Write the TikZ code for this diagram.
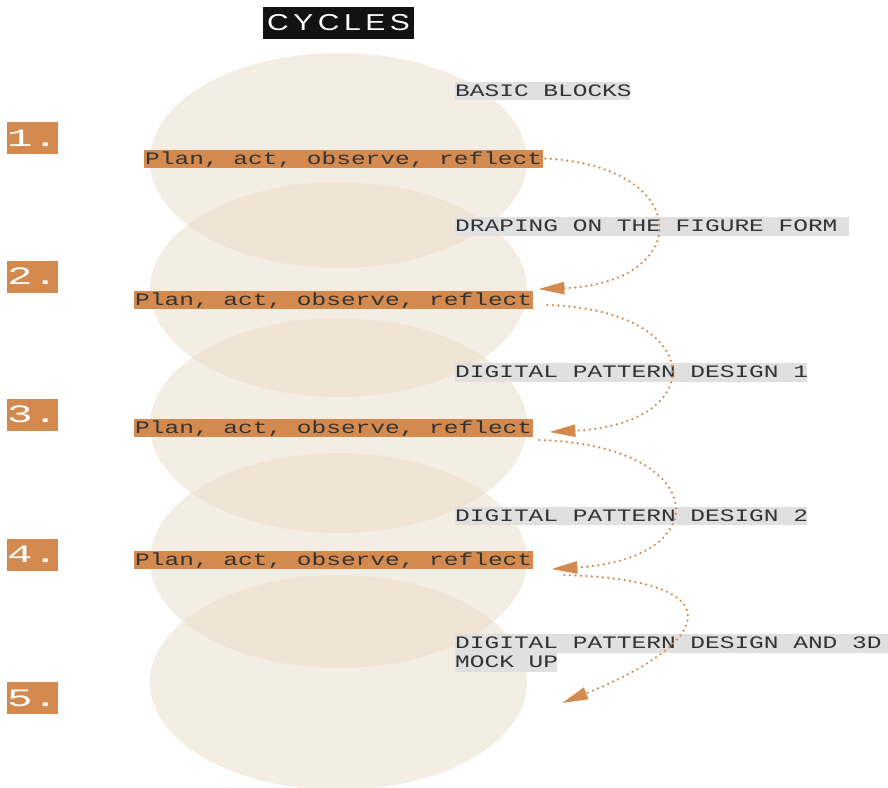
\documentclass[tikz,border=0pt]{standalone}
\usepackage{fontspec}
\setmainfont{Liberation Sans}
\newfontfamily\cycmono{Liberation Mono}[FakeStretch=1.4]
\newfontfamily\cycnum{Liberation Mono}[FakeStretch=1.7]
\newfontfamily\cychead{Liberation Sans}[FakeStretch=1.3,LetterSpace=20]
\usepackage{xcolor}
\usepackage{tikz}
\usetikzlibrary{shapes.geometric, arrows.meta, positioning}

\definecolor{cycorange}{RGB}{212,138,78}
\definecolor{cyctext}{RGB}{51,51,51}
\definecolor{cycgray}{RGB}{224,224,224}
\definecolor{cycbeige}{RGB}{235,221,201}

\newcommand{\stagebox}[2]{\makebox[#1][l]{#2}}

\begin{document}
\begin{tikzpicture}[x=1pt, y=-1pt]

\tikzstyle{disc} = [ellipse, fill=cycbeige, fill opacity=0.5, minimum width=377pt, minimum height=215pt, inner sep=0pt]
\tikzstyle{heading} = [fill=black!93, text=white, minimum width=151pt, minimum height=32pt, inner sep=0pt, font=\cychead\fontsize{23}{26}\selectfont]
\tikzstyle{stepnum} = [anchor=west, fill=cycorange, text=white, inner xsep=0pt, inner ysep=0pt, text height=24pt, text depth=8pt, font=\cycnum\fontsize{25}{28}\selectfont]
\tikzstyle{activity} = [anchor=west, fill=cycorange, text=cyctext, minimum width=395pt, inner xsep=1pt, inner ysep=0pt, text height=14.5pt, text depth=3.5pt, font=\cycmono\fontsize{17.5}{20}\selectfont]
\tikzstyle{stage} = [anchor=west, fill=cycgray, text=cyctext, inner xsep=0pt, inner ysep=0pt, text height=14.5pt, text depth=4pt, font=\cycmono\fontsize{17.5}{20}\selectfont]
\tikzstyle{flow} = [draw=cycorange, line width=2.5pt, line cap=round, dash pattern=on 0pt off 5.5pt, -{Triangle[length=26pt,width=12pt]}]

% Canvas
\fill[white] (0,0) rectangle (888,787);
\useasboundingbox (0,0) rectangle (888,787);

% Discs
\node (disc1) [disc] at (338.5,160.5) {};
\node (disc2) [disc] at (338.5,289.5) {};
\node (disc3) [disc] at (338.5,425.5) {};
\node (disc4) [disc] at (338.5,560.5) {};
\node (disc5) [disc] at (338.5,682.5) {};

% Title
\node (title) [heading] at (338.5,23) {CYCLES};

% Numbers
\node (num1) [stepnum] at (7,138) {\stagebox{51pt}{1.}};
\node (num2) [stepnum] at (7,276.5) {\stagebox{51pt}{2.}};
\node (num3) [stepnum] at (7,414.5) {\stagebox{51pt}{3.}};
\node (num4) [stepnum] at (7,554.5) {\stagebox{51pt}{4.}};
\node (num5) [stepnum] at (7,698) {\stagebox{51pt}{5.}};

% Activities
\node (act1) [activity] at (144,158.5) {Plan, act, observe, reflect};
\node (act2) [activity] at (134,300) {Plan, act, observe, reflect};
\node (act3) [activity] at (134,427.5) {Plan, act, observe, reflect};
\node (act4) [activity] at (134,560) {Plan, act, observe, reflect};

% Stages
\node (basic) [stage] at (455,91) {\stagebox{175pt}{BASIC BLOCKS}};
\node (drape) [stage] at (455,226.5) {\stagebox{394pt}{DRAPING ON THE FIGURE FORM}};
\node (dpd1) [stage] at (455,372.5) {\stagebox{352pt}{DIGITAL PATTERN DESIGN 1}};
\node (dpd2) [stage] at (455,516) {\stagebox{352pt}{DIGITAL PATTERN DESIGN 2}};
\node (dpd3) [stage] at (455,643.5) {\stagebox{440pt}{DIGITAL PATTERN DESIGN AND 3D}};
\node (mock) [stage, below=0pt of dpd3.south west, anchor=north west] {\stagebox{102pt}{MOCK UP}};

% Arrows
\coordinate (end5) at (562,703);
\draw [flow] ([xshift=2pt]act1.east) .. controls +(150,8) and +(155,-5) .. ([shift={(5,-11)}]act2.east);
\draw [flow] ([shift={(14,5)}]act2.east) .. controls +(160,5) and +(162,-8) .. ([shift={(16,4.5)}]act3.east);
\draw [flow] ([shift={(6,12.5)}]act3.east) .. controls +(170,5) and +(168,-10) .. ([shift={(18,9)}]act4.east);
\draw [flow] ([shift={(31,15)}]act4.east) .. controls +(175,5) and +(150,-60) .. (end5);

\end{tikzpicture}
\end{document}
